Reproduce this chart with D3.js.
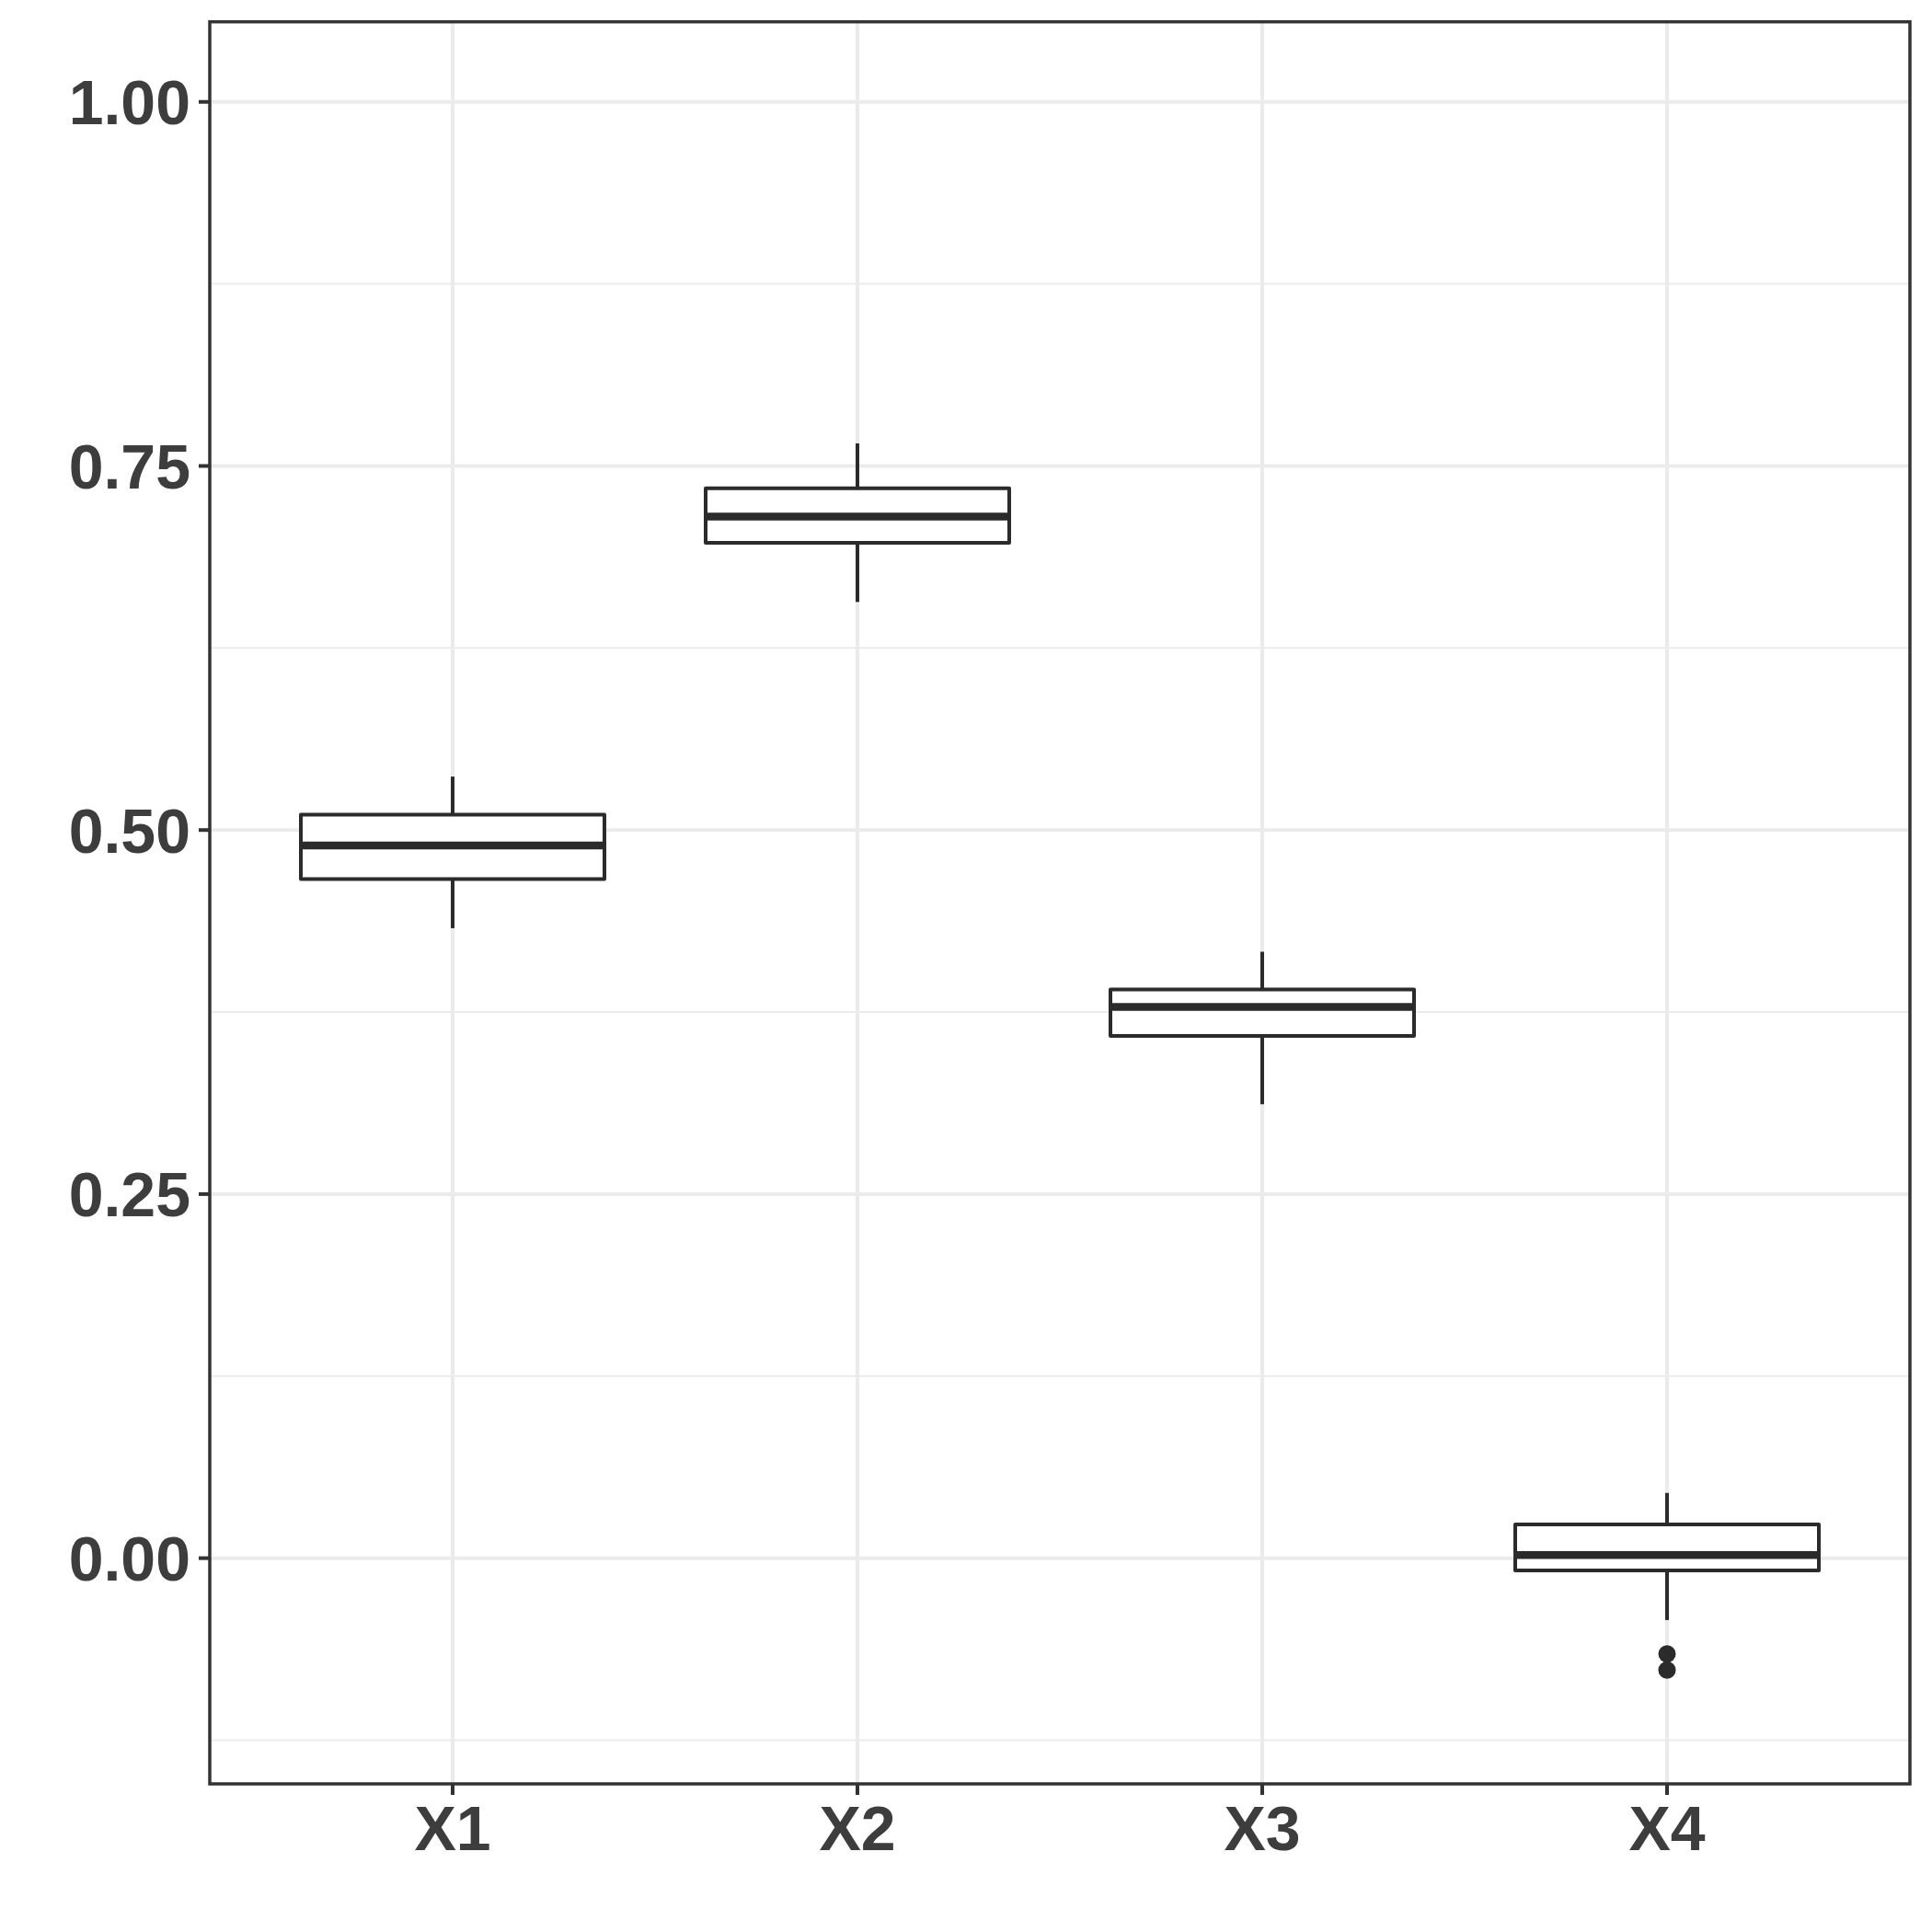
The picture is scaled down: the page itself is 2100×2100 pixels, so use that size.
<!DOCTYPE html>
<html><head><meta charset="utf-8">
<script src="https://cdn.jsdelivr.net/npm/d3@7"></script>
<style>body{margin:0;background:#fff}</style>
</head><body>
<script>
const categories = ["X1","X2","X3","X4"];
const q1 = [0.4664, 0.6972, 0.3586, -0.0084];
const median = [0.4894, 0.7153, 0.3785, 0.0021];
const q3 = [0.5106, 0.7346, 0.3905, 0.0231];
const whiskerLow = [0.4326, 0.6566, 0.3117, -0.0425];
const whiskerHigh = [0.5367, 0.7655, 0.4164, 0.0448];
const outliers = [[], [], [], [-0.0658, -0.0768]];
const yTicks = [0, 0.25, 0.5, 0.75, 1.0];
const yMinorTicks = [-0.125, 0.125, 0.375, 0.625, 0.875];
const yLimits = [-0.1, 1.0];

const W = 2100, H = 2100;
const L = 228, T = 23.7, R = 2076, B = 1939;
const svg = d3.select("body").append("svg").attr("width", W).attr("height", H);
svg.append("rect").attr("width", W).attr("height", H).attr("fill", "#fff");

const span = yLimits[1] - yLimits[0];
const y = d3.scaleLinear().domain([yLimits[0] - 0.05*span, yLimits[1] + 0.05*span]).range([B, T]);
const xs = d3.scalePoint().domain(categories).range([L, R]).padding(0.6);
const unit = xs.step();
const boxW = unit * 0.75;

const grid = svg.append("g");
yMinorTicks.forEach(v => grid.append("line").attr("x1", L).attr("x2", R).attr("y1", y(v)).attr("y2", y(v)).attr("stroke", "#EBEBEB").attr("stroke-width", 2));
yTicks.forEach(v => grid.append("line").attr("x1", L).attr("x2", R).attr("y1", y(v)).attr("y2", y(v)).attr("stroke", "#EBEBEB").attr("stroke-width", 4));
categories.forEach(c => grid.append("line").attr("x1", xs(c)).attr("x2", xs(c)).attr("y1", T).attr("y2", B).attr("stroke", "#EBEBEB").attr("stroke-width", 4));

const col = "#2B2B2B";
const g = svg.append("g");
categories.forEach((c, i) => {
  const cx = xs(c);
  g.append("line").attr("x1", cx).attr("x2", cx).attr("y1", y(q3[i])).attr("y2", y(whiskerHigh[i])).attr("stroke", col).attr("stroke-width", 4);
  g.append("line").attr("x1", cx).attr("x2", cx).attr("y1", y(q1[i])).attr("y2", y(whiskerLow[i])).attr("stroke", col).attr("stroke-width", 4);
  g.append("rect").attr("x", cx - boxW/2).attr("y", y(q3[i])).attr("width", boxW).attr("height", y(q1[i]) - y(q3[i]))
    .attr("fill", "#fff").attr("stroke", col).attr("stroke-width", 4).attr("stroke-linejoin", "round");
  g.append("line").attr("x1", cx - boxW/2).attr("x2", cx + boxW/2).attr("y1", y(median[i])).attr("y2", y(median[i])).attr("stroke", col).attr("stroke-width", 8.5);
  outliers[i].forEach(v => g.append("circle").attr("cx", cx).attr("cy", y(v)).attr("r", 9.5).attr("fill", col));
});

svg.append("rect").attr("x", L).attr("y", T).attr("width", R - L).attr("height", B - T)
  .attr("fill", "none").attr("stroke", "#333333").attr("stroke-width", 3.5);

const tc = "#3D3D3D", fs = 68;
yTicks.forEach(v => {
  svg.append("line").attr("x1", L - 12).attr("x2", L).attr("y1", y(v)).attr("y2", y(v)).attr("stroke", "#333333").attr("stroke-width", 4);
  svg.append("text").attr("x", L - 21).attr("y", y(v) + fs*0.36).attr("text-anchor", "end")
    .attr("font-family", "Liberation Sans, Arial, sans-serif").attr("font-weight", "bold").attr("font-size", fs)
    .attr("fill", tc).text(d3.format(".2f")(v));
});
categories.forEach(c => {
  svg.append("line").attr("x1", xs(c)).attr("x2", xs(c)).attr("y1", B).attr("y2", B + 12).attr("stroke", "#333333").attr("stroke-width", 4);
  svg.append("text").attr("x", xs(c)).attr("y", 2011).attr("text-anchor", "middle")
    .attr("font-family", "Liberation Sans, Arial, sans-serif").attr("font-weight", "bold").attr("font-size", fs)
    .attr("fill", tc).text(c);
});
</script>
</body></html>
